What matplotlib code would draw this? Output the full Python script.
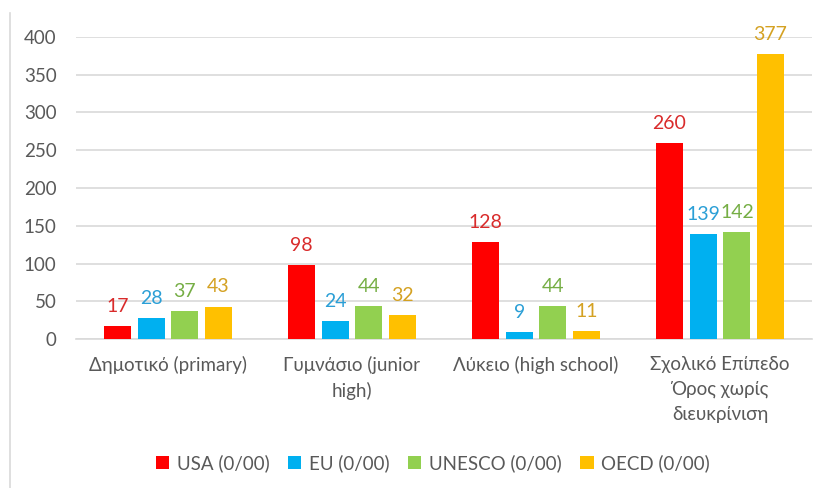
import matplotlib
matplotlib.use("Agg")
from matplotlib import pyplot as plt
from matplotlib.lines import Line2D
import numpy as np

plt.rcParams['font.family'] = ['Lato', 'Open Sans', 'DejaVu Sans']

# data
categories = ["Δημοτικό (primary)", "Γυμνάσιο (junior\nhigh)",
              "Λύκειο (high school)", "Σχολικό Επίπεδο\nΌρος χωρίς\nδιευκρίνιση"]
series_names = ["USA (0/00)", "EU (0/00)", "UNESCO (0/00)", "OECD (0/00)"]
usa = [17, 98, 128, 260]
eu = [28, 24, 9, 139]
unesco = [37, 44, 44, 142]
oecd = [43, 32, 11, 377]

bar_colors = ["#FF0000", "#00B0F0", "#92D050", "#FFC000"]
label_colors = ["#D92B2B", "#2B9FD6", "#76AE45", "#D4A122"]

fig = plt.figure(figsize=(8.32, 4.88), dpi=100)
ax = fig.add_axes([0.0913, 0.3053, 0.8847, 0.6189])

x = np.arange(len(categories))
step = 0.183
width = 0.147
for i, vals in enumerate([usa, eu, unesco, oecd]):
    pos = x + (i - 1.5) * step
    bars = ax.bar(pos, vals, width, color=bar_colors[i], label=series_names[i], zorder=3)
    for b, v in zip(bars, vals):
        ax.annotate(str(v), (b.get_x() + b.get_width() / 2, v), xytext=(0, 8),
                    textcoords="offset points", ha="center", va="bottom",
                    fontsize=14, color=label_colors[i])

ax.set_xlim(-0.5, len(categories) - 0.5)
ax.set_ylim(0, 400)
ax.set_yticks(range(0, 401, 50))
ax.set_xticks(x)
ax.set_xticklabels(categories, linespacing=1.55)
ax.tick_params(axis="both", length=0, labelsize=13.5, colors="#595959")
ax.tick_params(axis="x", pad=12)
ax.tick_params(axis="y", pad=14)
ax.grid(axis="y", color="#D9D9D9", linewidth=1.2, zorder=0)
for s in ["top", "right", "left"]:
    ax.spines[s].set_visible(False)
ax.spines["bottom"].set_color("#D9D9D9")
ax.spines["bottom"].set_linewidth(1.2)

# chart border line at left
fig.add_artist(Line2D([10 / 832, 10 / 832], [0, 1 - 13 / 488], color="#D9D9D9", linewidth=1.2))

leg = fig.legend(loc="center", bbox_to_anchor=(433 / 832, 1 - 463 / 488), ncol=4,
                 frameon=False, fontsize=13.5, handlelength=0.7, handleheight=0.7,
                 handletextpad=0.4, columnspacing=1.0)
for t in leg.get_texts():
    t.set_color("#595959")

plt.savefig("out.png", dpi=100)
